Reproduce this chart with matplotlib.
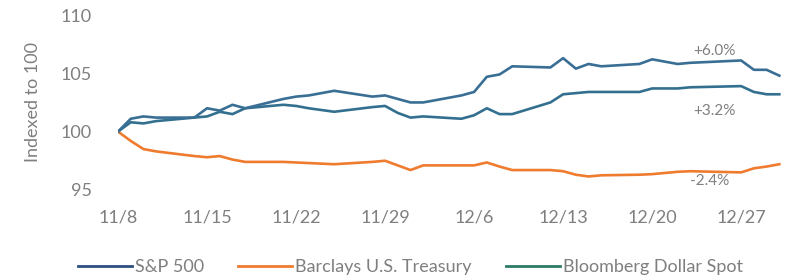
import matplotlib
matplotlib.use("Agg")
import matplotlib.pyplot as plt
import matplotlib.dates as mdates
from matplotlib.lines import Line2D
import pandas as pd

plt.rcParams['font.family'] = ['Lato', 'DejaVu Sans']

# trading days, 11/8/2016 - 12/30/2016
dates = ["2016-11-08", "2016-11-09", "2016-11-10", "2016-11-11", "2016-11-14",
         "2016-11-15", "2016-11-16", "2016-11-17", "2016-11-18", "2016-11-21",
         "2016-11-22", "2016-11-23", "2016-11-25", "2016-11-28", "2016-11-29",
         "2016-11-30", "2016-12-01", "2016-12-02", "2016-12-05", "2016-12-06",
         "2016-12-07", "2016-12-08", "2016-12-09", "2016-12-12", "2016-12-13",
         "2016-12-14", "2016-12-15", "2016-12-16", "2016-12-19", "2016-12-20",
         "2016-12-21", "2016-12-22", "2016-12-23", "2016-12-27", "2016-12-28",
         "2016-12-29", "2016-12-30"]

sp500 = [100.0, 101.1, 101.3, 101.2, 101.2, 102.0, 101.8, 102.3, 102.0, 102.8,
         103.0, 103.1, 103.5, 103.0, 103.1, 102.8, 102.5, 102.5, 103.1, 103.4,
         104.7, 104.9, 105.6, 105.5, 106.3, 105.4, 105.8, 105.6, 105.8, 106.2,
         106.0, 105.8, 105.9, 106.1, 105.3, 105.3, 104.8]

treasury = [100.0, 99.2, 98.5, 98.3, 97.9, 97.8, 97.9, 97.6, 97.4, 97.4,
            97.35, 97.3, 97.2, 97.4, 97.5, 97.1, 96.7, 97.1, 97.1, 97.1,
            97.35, 97.0, 96.7, 96.7, 96.6, 96.3, 96.15, 96.25, 96.3, 96.35,
            96.45, 96.55, 96.6, 96.5, 96.85, 97.0, 97.2]

dollar = [100.0, 100.8, 100.7, 100.9, 101.2, 101.3, 101.7, 101.5, 102.0, 102.3,
          102.2, 102.0, 101.7, 102.1, 102.2, 101.6, 101.2, 101.3, 101.1, 101.4,
          102.0, 101.5, 101.5, 102.5, 103.2, 103.3, 103.4, 103.4, 103.4, 103.7,
          103.7, 103.7, 103.8, 103.9, 103.4, 103.2, 103.2]

x = pd.to_datetime(dates)
gray = '#7f7f7f'

fig = plt.figure(figsize=(7.92, 2.78), dpi=100)
ax = fig.add_axes([0.149, 0.317, 0.843, 0.629])

ax.plot(x, treasury, color='#ef7b2f', lw=1.9)
ax.plot(x, dollar, color='#33708f', lw=1.9)
ax.plot(x, sp500, color='#3a6f95', lw=1.9)

ax.set_ylim(95, 110)
ax.set_yticks([95, 100, 105, 110])
ax.set_xlim(x[0], x[-1] + pd.Timedelta(days=0.5))
ax.xaxis.set_major_locator(mdates.DayLocator(bymonthday=None, interval=7))
ticks = pd.date_range("2016-11-08", "2016-12-27", freq="7D")
ax.set_xticks(ticks)
ax.set_xticklabels([f"{d.month}/{d.day}" for d in ticks])

for s in ax.spines.values():
    s.set_visible(False)
ax.tick_params(axis='both', length=0, labelsize=13, colors=gray)
ax.tick_params(axis='y', pad=19)
ax.tick_params(axis='x', pad=14)
ax.set_ylabel("Indexed to 100", fontsize=13, color=gray, labelpad=14)

ax.text(pd.Timestamp("2016-12-24 22:00"), 106.9, "+6.0%", color=gray, fontsize=11, ha='center', va='center')
ax.text(pd.Timestamp("2016-12-24 22:00"), 101.8, "+3.2%", color=gray, fontsize=11, ha='center', va='center')
ax.text(pd.Timestamp("2016-12-24 12:00"), 95.75, "-2.4%", color=gray, fontsize=11, ha='center', va='center')

handles = [Line2D([], [], color='#2d4f80', lw=2),
           Line2D([], [], color='#ef7b2f', lw=2),
           Line2D([], [], color='#2b7b66', lw=2)]
labels = ["S&P 500", "Barclays U.S. Treasury", "Bloomberg Dollar Spot"]
fig.legend(handles, labels, loc='center', bbox_to_anchor=(0.518, 0.04), ncol=3,
           frameon=False, fontsize=13, handlelength=3.0, handletextpad=0.15,
           columnspacing=1.9, labelcolor=gray)

fig.savefig("out.png", dpi=100)
